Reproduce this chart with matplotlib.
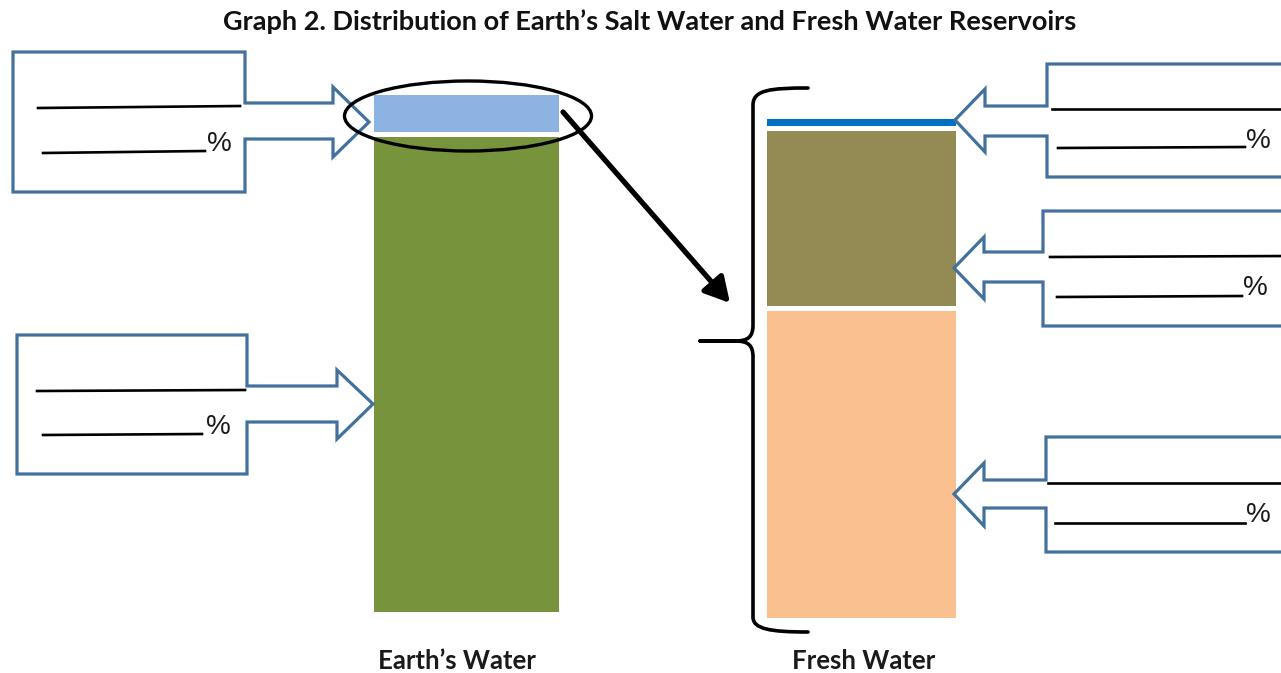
import matplotlib
matplotlib.use('Agg')
import matplotlib.pyplot as plt
from matplotlib.patches import Polygon, Ellipse, FancyArrowPatch, PathPatch
from matplotlib.path import Path

# ---------------- data ----------------
title = "Graph 2. Distribution of Earth\u2019s Salt Water and Fresh Water Reservoirs"
earth_categories = ["Salt Water", "Fresh Water"]
earth_values = [92.1, 7.9]
earth_colors = ["#77933C", "#8DB3E2"]
fresh_categories = ["Ice Caps and Glaciers", "Groundwater", "Surface Water"]
fresh_values = [61.9, 35.7, 2.4]
fresh_colors = ["#FAC090", "#948A54", "#0070C0"]
bar_labels = ["Earth\u2019s Water", "Fresh Water"]
blank_suffix = "%"

W, H = 1281, 673
fig = plt.figure(figsize=(W / 100, H / 100), dpi=100)
fig.patch.set_facecolor('white')


def px_axes(x0, y0, x1, y1, **kw):
    return fig.add_axes([x0 / W, 1 - y1 / H, (x1 - x0) / W, (y1 - y0) / H], **kw)


def stacked(ax, values, colors):
    bottom = 0
    for v, c in zip(values, colors):
        ax.bar(0, v, width=1, bottom=bottom, color=c, edgecolor='white',
               linewidth=3.6, clip_on=False)
        bottom += v
    ax.set_xlim(-0.5, 0.5)
    ax.set_ylim(0, 100)
    ax.axis('off')


ax_e = px_axes(370.5, 92.5, 560.5, 613.5)
stacked(ax_e, earth_values, earth_colors)
ax_f = px_axes(763.5, 115.5, 957.5, 619.5)
stacked(ax_f, fresh_values, fresh_colors)

# ---------------- overlay ----------------
ov = fig.add_axes([0, 0, 1, 1])
ov.set_xlim(0, W)
ov.set_ylim(H, 0)
ov.axis('off')
ov.patch.set_alpha(0)

FONT = ['Lato', 'DejaVu Sans']
BLUE = '#41719C'

ov.text(650, 22, title, ha='center', va='center', fontsize=19.5,
        fontweight='bold', family=FONT, color='#111111')
ov.text(456.5, 661, bar_labels[0], ha='center', va='center', fontsize=18.5,
        fontweight='bold', family=FONT, color='#1a1a1a')
ov.text(864, 661, bar_labels[1], ha='center', va='center', fontsize=18.5,
        fontweight='bold', family=FONT, color='#1a1a1a')

callouts = [
    [(13, 52), (245, 52), (245, 103), (333, 103), (333, 87), (369, 122), (333, 157),
     (333, 139), (245, 139), (245, 192), (13, 192)],
    [(17, 335), (247, 335), (247, 386), (337, 386), (337, 370), (373, 404), (337, 439),
     (337, 422), (247, 422), (247, 474), (17, 474)],
    [(1300, 64), (1047, 64), (1047, 106), (985, 106), (985, 89), (955, 120), (985, 152),
     (985, 136), (1047, 136), (1047, 177), (1300, 177)],
    [(1300, 211), (1043, 211), (1043, 252), (984, 252), (984, 237), (954, 268), (984, 299),
     (984, 282), (1043, 282), (1043, 326), (1300, 326)],
    [(1300, 437), (1046, 437), (1046, 480), (984, 480), (984, 463), (954, 494), (984, 526),
     (984, 508), (1046, 508), (1046, 552), (1300, 552)],
]
for pts in callouts:
    ov.add_patch(Polygon(pts, closed=True, fill=False, edgecolor=BLUE,
                         linewidth=2.3, joinstyle='miter'))

blanks = [
    ((38, 240, 108, 106), (43, 205, 153, 151), (207, 144)),
    ((37, 245, 391, 390), (43, 202, 435, 434), (206, 427)),
    ((1052, 1290, 109, 109), (1058, 1245, 148, 147), (1246, 141)),
    ((1050, 1290, 257, 256), (1057, 1242, 297, 296), (1243, 288)),
    ((1048, 1290, 483, 483), (1055, 1245, 523, 523), (1246, 515)),
]
for l1, l2, pct in blanks:
    ov.plot([l1[0], l1[1]], [l1[2], l1[3]], color='black', lw=1.9)
    ov.plot([l2[0], l2[1]], [l2[2], l2[3]], color='black', lw=1.9)
    ov.text(pct[0], pct[1], blank_suffix, ha='left', va='center', fontsize=20,
            family=['Liberation Sans', 'DejaVu Sans'], color='#1a1a1a')

# ellipse around fresh water portion
ov.add_patch(Ellipse((468, 116), 247, 70, fill=False, edgecolor='black', linewidth=2.4))

# big arrow
ov.add_patch(FancyArrowPatch((563, 112), (730, 303),
                             arrowstyle='-|>,head_length=1.0,head_width=0.55',
                             mutation_scale=15, lw=3.8, color='black',
                             shrinkA=0, shrinkB=0))

# curly brace
verts = [
    (808, 88), (770, 88), (753, 90), (753, 105),
    (753, 325),
    (753, 337), (748, 341), (735, 341),
    (700, 341),
    (735, 341),
    (748, 341), (753, 345), (753, 357),
    (753, 617),
    (753, 629), (770, 632), (808, 632),
]
codes = [Path.MOVETO, Path.CURVE4, Path.CURVE4, Path.CURVE4,
         Path.LINETO,
         Path.CURVE4, Path.CURVE4, Path.CURVE4,
         Path.LINETO,
         Path.LINETO,
         Path.CURVE4, Path.CURVE4, Path.CURVE4,
         Path.LINETO,
         Path.CURVE4, Path.CURVE4, Path.CURVE4]
ov.add_patch(PathPatch(Path(verts, codes), fill=False, edgecolor='black',
                       linewidth=2.6, capstyle='round', joinstyle='round'))

fig.savefig('out.png', dpi=100)
